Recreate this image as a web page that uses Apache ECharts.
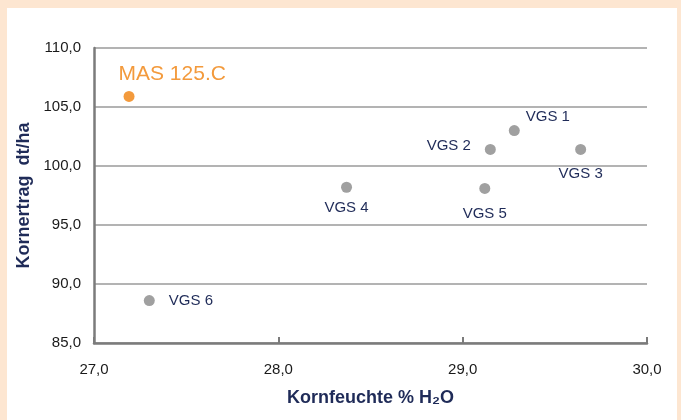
<!DOCTYPE html>
<html><head><meta charset="utf-8">
<script src="https://cdn.jsdelivr.net/npm/echarts@6/dist/echarts.min.js"></script>
<style>
html,body{margin:0;padding:0;background:#fde6d1;}
#panel{position:absolute;left:7px;top:8px;width:670px;height:412px;background:#fff;}
#c{position:absolute;left:0;top:0;width:681px;height:420px;}
</style></head><body>
<div id="panel"></div>
<div id="c"></div>
<script>
const names = ['MAS 125.C','VGS 1','VGS 2','VGS 3','VGS 4','VGS 5','VGS 6'];
const moisture = [27.19, 29.28, 29.15, 29.64, 28.37, 29.12, 27.30];
const yieldVals = [105.9, 103.0, 101.4, 101.4, 98.2, 98.1, 88.6];
const xTicks = [27, 28, 29, 30];
const yTicks = [85, 90, 95, 100, 105, 110];

const FONT = 'Liberation Sans, Arial, sans-serif';
const labelPos = {
  'MAS 125.C': {position:[-5,-27], fontSize:21, color:'#f39a3c'},
  'VGS 1': {position:'right', offset:[1,-14]},
  'VGS 2': {position:'left', distance:14, offset:[0,-4]},
  'VGS 3': {position:'bottom', distance:11},
  'VGS 4': {position:'bottom', distance:8},
  'VGS 5': {position:'bottom', distance:12},
  'VGS 6': {position:'right', distance:14}
};
const fmt = v => v.toFixed(1).replace('.', ',');
const data = names.map((n,i)=>{
  const isMas = i===0;
  return {
    name:n, value:[moisture[i], yieldVals[i]],
    itemStyle:{color: isMas ? '#f39a3c' : '#a0a0a0', opacity:1},
    label:Object.assign({show:true, formatter:n, color:'#1f2b58', fontSize:15, fontFamily:FONT, opacity:1}, labelPos[n])
  };
});
const chart = echarts.init(document.getElementById('c'));
chart.setOption({
  backgroundColor:'transparent',
  animation:false,
  grid:{left:94, right:34, top:48, bottom:77},
  xAxis:{
    type:'value', min:xTicks[0], max:xTicks[xTicks.length-1], interval:1,
    name:'Kornfeuchte % H\u2082O', nameLocation:'middle', nameGap:46,
    nameTextStyle:{fontSize:18, fontWeight:'bold', color:'#1f2b58', fontFamily:FONT},
    axisLine:{show:true, lineStyle:{color:'#7b7b7b', width:2.5}},
    axisTick:{show:true, inside:true, length:6, lineStyle:{color:'#7b7b7b', width:2}},
    axisLabel:{formatter:fmt, color:'#1a1a1a', fontSize:15, margin:19, fontFamily:FONT},
    splitLine:{show:false}
  },
  yAxis:{
    type:'value', min:yTicks[0], max:yTicks[yTicks.length-1], interval:5,
    name:'Kornertrag  dt/ha', nameLocation:'middle', nameGap:60,
    nameTextStyle:{fontSize:18, fontWeight:'bold', color:'#1f2b58', fontFamily:FONT},
    axisLine:{show:true, lineStyle:{color:'#7b7b7b', width:2.5}},
    axisTick:{show:false},
    axisLabel:{formatter:fmt, color:'#1a1a1a', fontSize:15, margin:13, fontFamily:FONT},
    splitLine:{show:true, lineStyle:{color:'#9a9a9a', width:1.5}}
  },
  series:[{type:'scatter', symbolSize:11, itemStyle:{opacity:1}, data:data}]
});
</script>
</body></html>
